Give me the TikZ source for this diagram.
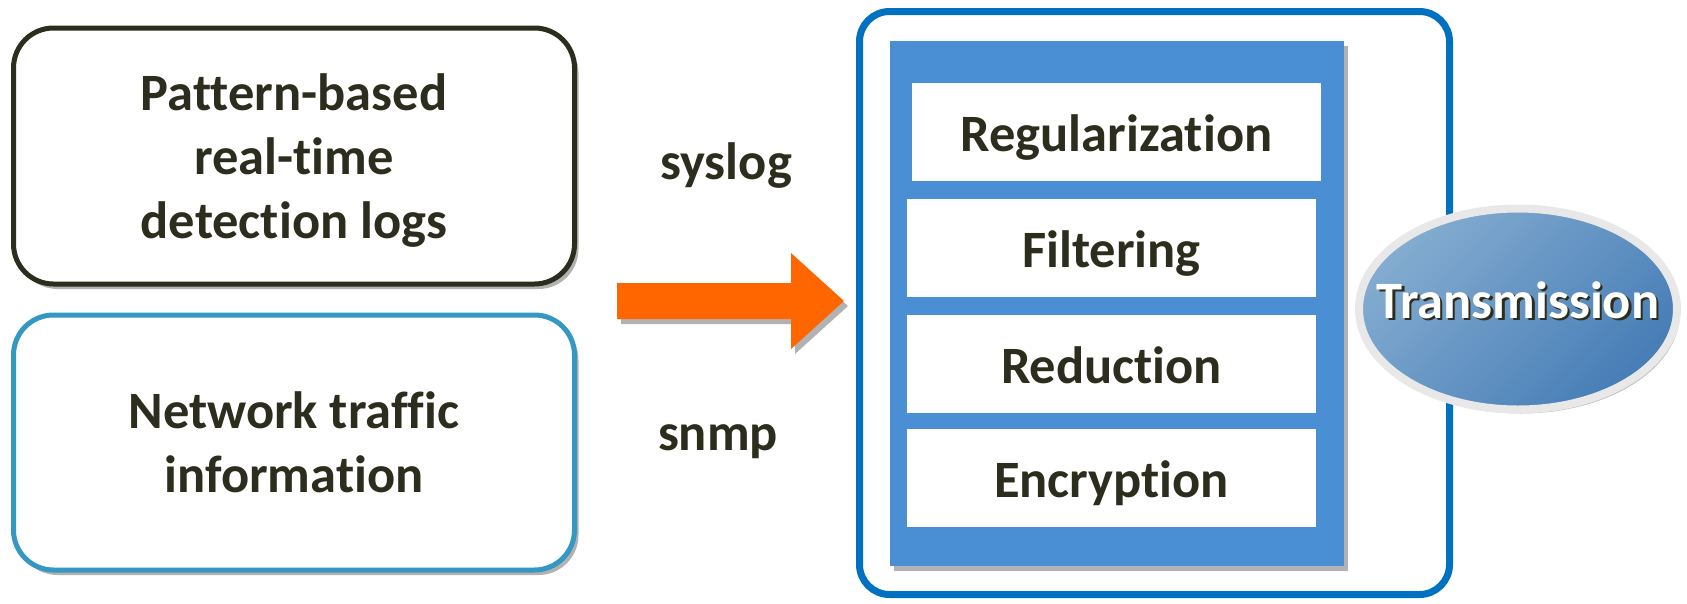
\documentclass[tikz,border=0pt]{standalone}
\usepackage{fontspec}
\setmainfont{Carlito}[RawFeature={-liga}]
\usetikzlibrary{shapes.geometric,shadows}
\definecolor{txt}{RGB}{45,45,30}
\definecolor{tealline}{RGB}{52,152,194}
\definecolor{frameblue}{RGB}{0,112,192}
\definecolor{panelblue}{RGB}{74,142,212}
\definecolor{arroworange}{RGB}{255,102,0}
\definecolor{elllight}{RGB}{132,172,208}
\definecolor{elldark}{RGB}{70,125,182}
\definecolor{ringgray}{RGB}{232,232,232}
\begin{document}
\begin{tikzpicture}[x=1pt,y=-1pt,
  font=\fontsize{52.5}{64}\selectfont\bfseries, text=txt,
  softshadow/.style={drop shadow={shadow xshift=4pt,shadow yshift=-5pt,opacity=0.3,fill=black}},
  srcbox/.style={draw, line width=5pt, rounded corners=40pt, fill=white, softshadow,
    minimum width=561pt, inner sep=0pt, align=center},
  stepbox/.style={fill=white, minimum width=409pt, minimum height=98pt, inner sep=0pt,
    text height=39pt, text depth=0pt},
  lbl/.style={inner sep=0pt}
]
\useasboundingbox (0,0) rectangle (1687,603);
% source boxes
\node[srcbox, draw=txt, minimum height=256pt] (logs) at (294,156) {};
\node[lbl, align=center, yshift=-5pt] (logstext) at (logs) {Pattern-based\\real-time\\detection logs};
\node[srcbox, draw=tealline, minimum height=255pt] (traffic) at (294,442.5) {Network traffic\\information};
% protocol labels
\node[lbl] (syslog) at (726,165.5) {syslog};
\node[lbl] (snmp) at (718,442) {snmp};
% orange block arrow
\fill[arroworange, softshadow] (617,283) -- (791,283) -- (791,253) -- (844,301) -- (791,349) -- (791,319) -- (617,319) -- cycle;
% processing frame
\node[draw=frameblue, line width=7pt, rounded corners=30pt, fill=white, minimum width=590pt, minimum height=583pt, inner sep=0pt] (frame) at (1154.5,303) {};
\node[fill=panelblue, softshadow, minimum width=454pt, minimum height=525pt, inner sep=0pt] (panel) at (1117,303.5) {};
\node[stepbox] (reg) at (1116.5,132) {Regularization};
\node[stepbox] (filt) at (1111.5,248) {Filtering};
\node[stepbox] (red) at (1111.5,363.5) {Reduction};
\node[stepbox] (enc) at (1111.5,478) {Encryption};
% transmission ellipse
\node[ellipse, draw=ringgray, line width=8pt, top color=elllight, bottom color=elldark, shading angle=45,
  minimum width=318pt, minimum height=201pt, inner sep=0pt,
  drop shadow={shadow xshift=3pt,shadow yshift=-4pt,opacity=0.25,fill=black}] (tx) at (1518,309) {};
\node[lbl, text=txt, text height=34pt, text depth=0pt, xshift=2.5pt, yshift=5.5pt] (txshadow) at (tx) {Transmission};
\node[lbl, text=white, text height=34pt, text depth=0pt, yshift=8pt] (txlabel) at (tx) {Transmission};
\end{tikzpicture}
\end{document}
